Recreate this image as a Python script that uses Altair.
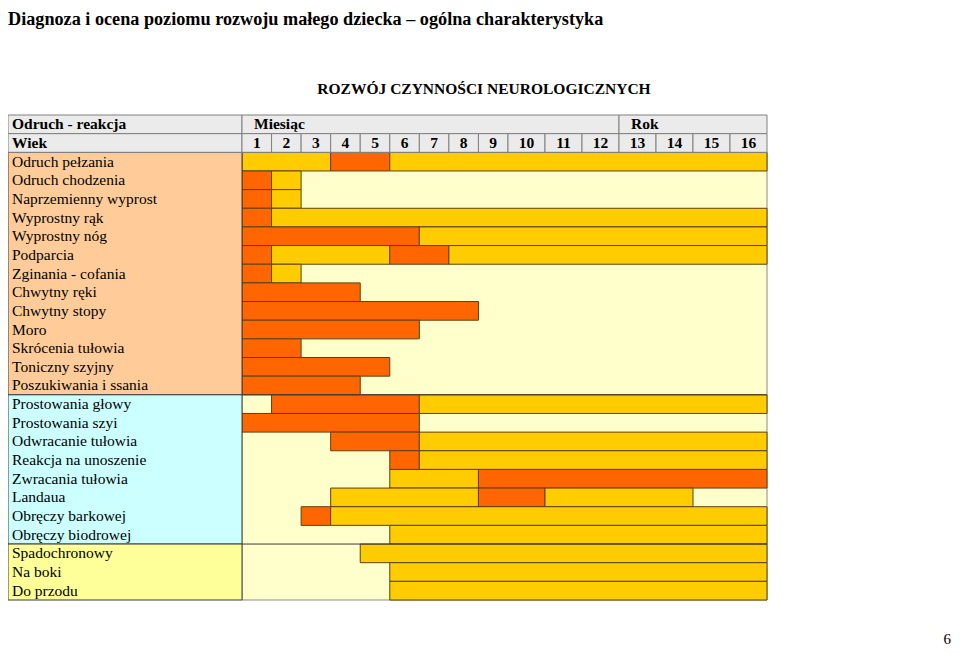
import altair as alt
import pandas as pd

# ---- data ----
reflexes = [
    "Odruch pełzania", "Odruch chodzenia", "Naprzemienny wyprost", "Wyprostny rąk",
    "Wyprostny nóg", "Podparcia", "Zginania - cofania", "Chwytny ręki", "Chwytny stopy",
    "Moro", "Skrócenia tułowia", "Toniczny szyjny", "Poszukiwania i ssania",
    "Prostowania głowy", "Prostowania szyi", "Odwracanie tułowia", "Reakcja na unoszenie",
    "Zwracania tułowia", "Landaua", "Obręczy barkowej", "Obręczy biodrowej",
    "Spadochronowy", "Na boki", "Do przodu",
]
# one character per month 1..16: O = orange, Y = yellow, . = none
patterns = [
    "YYYOOYYYYYYYYYYY",
    "OY..............",
    "OY..............",
    "OYYYYYYYYYYYYYYY",
    "OOOOOOYYYYYYYYYY",
    "OYYYYOOYYYYYYYYY",
    "OY..............",
    "OOOO............",
    "OOOOOOOO........",
    "OOOOOO..........",
    "OO..............",
    "OOOOO...........",
    "OOOO............",
    ".OOOOOYYYYYYYYYY",
    "OOOOOO..........",
    "...OOOYYYYYYYYYY",
    ".....OYYYYYYYYYY",
    ".....YYYOOOOOOOO",
    "...YYYYYOOYYYY..",
    "..OYYYYYYYYYYYYY",
    ".....YYYYYYYYYYY",
    "....YYYYYYYYYYYY",
    ".....YYYYYYYYYYY",
    ".....YYYYYYYYYYY",
]
months = list(range(1, 17))
group_bounds = [0, 13, 21, 24]
group_fill = ["#FFCC99", "#CCFFFF", "#FFFF99"]
title_text = "Diagnoza i ocena poziomu rozwoju małego dziecka – ogólna charakterystyka"
subtitle_text = "ROZWÓJ CZYNNOŚCI NEUROLOGICZNYCH"
col_header = "Odruch - reakcja"
row_header = "Wiek"
month_header = "Miesiąc"
year_header = "Rok"
page_no = "6"

ORANGE, YELLOW, CREAM = "#FF6600", "#FFCC00", "#FFFFCC"
SERIF = "Liberation Serif"

# ---- tables ----
segs = []
for r, pat in enumerate(patterns):
    m = 0
    while m < len(pat):
        c = pat[m]
        e = m
        while e < len(pat) and pat[e] == c:
            e += 1
        if c != ".":
            segs.append({"x0": m, "x1": e, "y0": r, "y1": r + 1,
                         "color": ORANGE if c == "O" else YELLOW})
        m = e
seg_df = pd.DataFrame(segs)

label_df = pd.DataFrame({"label": reflexes, "x": -1, "y": [i + 0.5 for i in range(len(reflexes))]})
grp_df = pd.DataFrame({"x0": -1, "x1": 0, "y0": group_bounds[:-1], "y1": group_bounds[1:],
                       "color": group_fill})
sep_df = pd.DataFrame({"x0": 0, "x1": 16, "y": group_bounds[1:-1]})

hdr_cells = [{"x0": -1, "x1": 0, "y0": -2, "y1": -1},
             {"x0": -1, "x1": 0, "y0": -1, "y1": 0},
             {"x0": 0, "x1": 12, "y0": -2, "y1": -1},
             {"x0": 12, "x1": 16, "y0": -2, "y1": -1}]
hdr_cells += [{"x0": m - 1, "x1": m, "y0": -1, "y1": 0} for m in months]
hdr_df = pd.DataFrame(hdr_cells)
hdr_left_df = pd.DataFrame({"t": [col_header, row_header, month_header, year_header],
                            "x": [-1, -1, 0, 12], "y": [-1.5, -0.5, -1.5, -1.5]})
month_df = pd.DataFrame({"t": [str(m) for m in months], "x": [m - 0.5 for m in months], "y": -0.5})
bg_df = pd.DataFrame({"x0": [0], "x1": [16], "y0": [0], "y1": [24]})

xs = alt.Scale(domain=[-1, 0, 9, 16], range=[0, 234, 500, 759], nice=False, zero=False)
ys = alt.Scale(domain=[-2, 24], range=[107, 592], nice=False, zero=False)


def rect_enc(base):
    return base.encode(
        x=alt.X("x0:Q", scale=xs, axis=None), x2="x1:Q",
        y=alt.Y("y0:Q", scale=ys, axis=None), y2="y1:Q",
    )

bg = rect_enc(alt.Chart(bg_df).mark_rect(fill=CREAM, stroke="#8c8c7a", strokeWidth=1))
bars = rect_enc(alt.Chart(seg_df).mark_rect(stroke="#5e4010", strokeWidth=1)).encode(
    fill=alt.Fill("color:N", scale=None))
seps = alt.Chart(sep_df).mark_rule(color="#3a3a3a", strokeWidth=1).encode(
    x=alt.X("x0:Q", scale=xs, axis=None), x2="x1:Q",
    y=alt.Y("y:Q", scale=ys, axis=None))
grp = rect_enc(alt.Chart(grp_df).mark_rect(stroke="#3a3a3a", strokeWidth=1)).encode(
    fill=alt.Fill("color:N", scale=None))
hdr = rect_enc(alt.Chart(hdr_df).mark_rect(fill="#EBEBEB", stroke="#808080", strokeWidth=1))

FS = 15.5
labels = alt.Chart(label_df).mark_text(font=SERIF, fontSize=FS, align="left", baseline="middle",
                                       dx=4, color="#000000").encode(
    x=alt.X("x:Q", scale=xs, axis=None), y=alt.Y("y:Q", scale=ys, axis=None), text="label:N")
hdr_txt_a = alt.Chart(hdr_left_df.iloc[:2]).mark_text(font=SERIF, fontSize=FS, fontWeight="bold",
                                                      align="left", baseline="middle", dx=4,
                                                      color="#000000").encode(
    x=alt.X("x:Q", scale=xs, axis=None), y=alt.Y("y:Q", scale=ys, axis=None), text="t:N")
hdr_txt_b = alt.Chart(hdr_left_df.iloc[2:]).mark_text(font=SERIF, fontSize=FS, fontWeight="bold",
                                                      align="left", baseline="middle", dx=12,
                                                      color="#000000").encode(
    x=alt.X("x:Q", scale=xs, axis=None), y=alt.Y("y:Q", scale=ys, axis=None), text="t:N")
month_txt = alt.Chart(month_df).mark_text(font=SERIF, fontSize=FS, fontWeight="bold", align="center",
                                          baseline="middle", color="#000000").encode(
    x=alt.X("x:Q", scale=xs, axis=None), y=alt.Y("y:Q", scale=ys, axis=None), text="t:N")

title = alt.Chart(pd.DataFrame({"t": [title_text]})).mark_text(
    font=SERIF, fontSize=18.2, fontWeight="bold", align="left", baseline="alphabetic", color="#000000"
).encode(x=alt.value(0), y=alt.value(17), text="t:N")
subtitle = alt.Chart(pd.DataFrame({"t": [subtitle_text]})).mark_text(
    font=SERIF, fontSize=15.5, fontWeight="bold", align="center", baseline="alphabetic", color="#000000"
).encode(x=alt.value(476), y=alt.value(86), text="t:N")
pnum = alt.Chart(pd.DataFrame({"t": [page_no]})).mark_text(
    font=SERIF, fontSize=15, align="right", baseline="alphabetic", color="#000000"
).encode(x=alt.value(943), y=alt.value(636), text="t:N")

chart = alt.layer(bg, bars, seps, grp, hdr, labels, hdr_txt_a, hdr_txt_b, month_txt,
                  title, subtitle, pnum).properties(
    width=944, height=638, autosize=alt.AutoSizeParams(type="none"), padding=0,
    background="#FFFFFF",
).configure_view(stroke=None)

chart.save("out.html", embed_options={"renderer": "svg", "actions": False})
